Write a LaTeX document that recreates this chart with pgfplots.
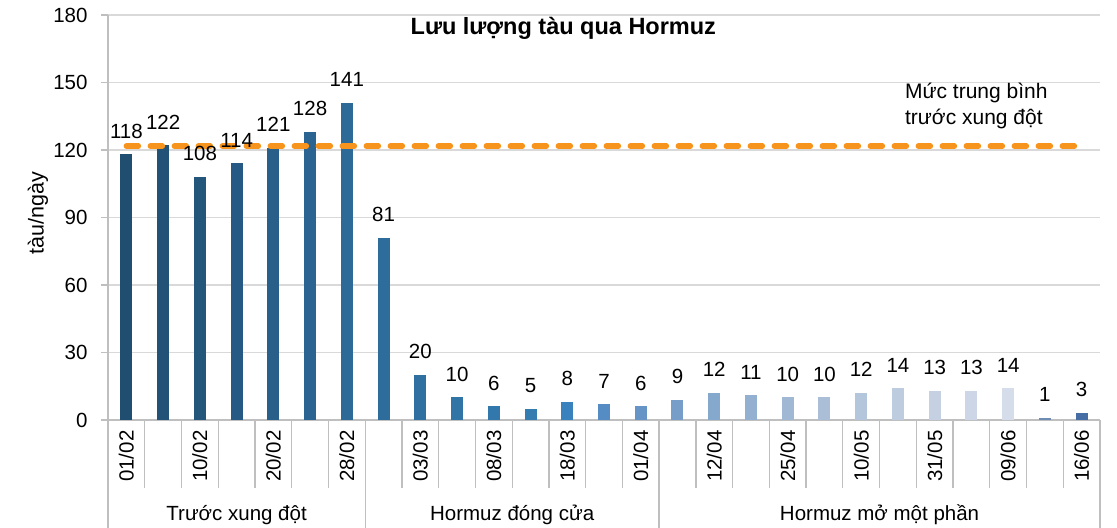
\documentclass[border=0pt]{standalone}
\usepackage{pgfplots}
\pgfplotsset{compat=1.18}
\usepackage{fontspec}
\setmainfont{Liberation Sans}
\definecolor{gridgray}{RGB}{217,217,217}
\definecolor{axgray}{RGB}{191,191,191}
\definecolor{avgor}{RGB}{247,148,30}
\definecolor{c0}{RGB}{31,78,112}
\definecolor{c1}{RGB}{34,82,118}
\definecolor{c2}{RGB}{36,86,124}
\definecolor{c3}{RGB}{38,90,132}
\definecolor{c4}{RGB}{41,96,138}
\definecolor{c5}{RGB}{44,100,145}
\definecolor{c6}{RGB}{46,106,152}
\definecolor{c7}{RGB}{46,108,155}
\definecolor{c8}{RGB}{47,112,160}
\definecolor{c9}{RGB}{49,116,166}
\definecolor{c10}{RGB}{51,120,172}
\definecolor{c11}{RGB}{53,124,177}
\definecolor{c12}{RGB}{58,130,190}
\definecolor{c13}{RGB}{85,140,195}
\definecolor{c14}{RGB}{102,148,198}
\definecolor{c15}{RGB}{118,158,200}
\definecolor{c16}{RGB}{133,168,205}
\definecolor{c17}{RGB}{148,176,208}
\definecolor{c18}{RGB}{160,184,212}
\definecolor{c19}{RGB}{170,190,215}
\definecolor{c20}{RGB}{180,198,220}
\definecolor{c21}{RGB}{190,204,224}
\definecolor{c22}{RGB}{197,208,226}
\definecolor{c23}{RGB}{205,214,230}
\definecolor{c24}{RGB}{213,220,234}
\definecolor{c25}{RGB}{110,140,180}
\definecolor{c26}{RGB}{70,110,165}
\newcommand\fs{\fontsize{20.5bp}{26bp}\selectfont}
\pgfplotsset{bb/.style={ybar, bar width=12bp, bar shift=0pt, fill=#1, draw=none}}
\begin{document}
\begin{tikzpicture}
\path[use as bounding box] (0,0) rectangle (1117bp,528bp);
\begin{axis}[
  at={(108bp,108bp)}, anchor=south west,
  scale only axis, width=992bp, height=405bp,
  xmin=-0.5, xmax=26.5, ymin=0, ymax=180,
  ytick={0,30,...,180},
  xtick={0,2,...,26},
  xticklabels={01/02,10/02,20/02,28/02,03/03,08/03,18/03,01/04,12/04,25/04,10/05,31/05,09/06,16/06},
  minor xtick={-0.5,0.5,...,26.5},
  axis x line=bottom, axis y line=left,
  tick align=outside, xtick align=outside, ytick align=outside,
  major tick length=7bp, minor tick length=68bp,
  major x tick style={draw=none},
  minor x tick style={draw=axgray, line width=1.3bp},
  major y tick style={draw=axgray, line width=1.3bp},
  axis line style={-, draw=axgray, line width=1.3bp},
  ymajorgrids, major grid style={draw=gridgray, line width=1.3bp},
  yticklabel style={font=\fs, xshift=-10bp},
  xticklabel style={font=\fs, rotate=90, anchor=east},
  /pgf/number format/assume math mode=true,
  clip=false,
  ylabel={tàu/ngày},
  ylabel style={font=\fontsize{21.5bp}{26bp}\selectfont, at={(axis description cs:-0.0706,0.511)}, anchor=center, rotate=0},
]
\addplot[bb=c0] coordinates {(0,118)};
\addplot[bb=c1] coordinates {(1,122)};
\addplot[bb=c2] coordinates {(2,108)};
\addplot[bb=c3] coordinates {(3,114)};
\addplot[bb=c4] coordinates {(4,121)};
\addplot[bb=c5] coordinates {(5,128)};
\addplot[bb=c6] coordinates {(6,141)};
\addplot[bb=c7] coordinates {(7,81)};
\addplot[bb=c8] coordinates {(8,20)};
\addplot[bb=c9] coordinates {(9,10)};
\addplot[bb=c10] coordinates {(10,6)};
\addplot[bb=c11] coordinates {(11,5)};
\addplot[bb=c12] coordinates {(12,8)};
\addplot[bb=c13] coordinates {(13,7)};
\addplot[bb=c14] coordinates {(14,6)};
\addplot[bb=c15] coordinates {(15,9)};
\addplot[bb=c16] coordinates {(16,12)};
\addplot[bb=c17] coordinates {(17,11)};
\addplot[bb=c18] coordinates {(18,10)};
\addplot[bb=c19] coordinates {(19,10)};
\addplot[bb=c20] coordinates {(20,12)};
\addplot[bb=c21] coordinates {(21,14)};
\addplot[bb=c22] coordinates {(22,13)};
\addplot[bb=c23] coordinates {(23,13)};
\addplot[bb=c24] coordinates {(24,14)};
\addplot[bb=c25] coordinates {(25,1)};
\addplot[bb=c26] coordinates {(26,3)};
% pre-conflict average
\addplot[sharp plot, draw=avgor, line width=5.5bp, line cap=round, dash pattern=on 12bp off 12bp, mark=none]
  coordinates {(0,121.7) (26,121.7)};
% data labels
\addplot[draw=none, mark=none, nodes near coords,
  nodes near coords style={font=\fs, anchor=south, inner sep=0pt, yshift=16bp}]
  coordinates {(0,118) (1,122) (2,108) (3,114) (4,121) (5,128) (6,141)
  (7,81) (8,20) (9,10) (10,6) (11,5) (12,8) (13,7) (14,6)
  (15,9) (16,12) (17,11) (18,10) (19,10) (20,12) (21,14) (22,13) (23,13) (24,14) (25,1) (26,3)};
% group separators and labels
\draw[draw=axgray, line width=1.3bp] (axis cs:-0.5,0) -- ([yshift=-108bp]axis cs:-0.5,0);
\draw[draw=axgray, line width=1.3bp] (axis cs:6.5,0) -- ([yshift=-108bp]axis cs:6.5,0);
\draw[draw=axgray, line width=1.3bp] (axis cs:14.5,0) -- ([yshift=-108bp]axis cs:14.5,0);
\draw[draw=axgray, line width=1.3bp] (axis cs:26.5,0) -- ([yshift=-108bp]axis cs:26.5,0);
\node[font=\fs] at ([yshift=-95bp]axis cs:3,0) {Trước xung đột};
\node[font=\fs] at ([yshift=-95bp]axis cs:10.5,0) {Hormuz đóng cửa};
\node[font=\fs] at ([yshift=-95bp]axis cs:20.5,0) {Hormuz mở một phần};
\node[font=\fontsize{21bp}{26bp}\selectfont, anchor=west, align=left, inner sep=0pt] at (axis cs:21.19,139.5) {Mức trung bình\\trước xung đột};
\node[font=\bfseries\fontsize{23.5bp}{28bp}\selectfont] at (rel axis cs:0.459,0.968) {Lưu lượng tàu qua Hormuz};
\end{axis}
\end{tikzpicture}
\end{document}
